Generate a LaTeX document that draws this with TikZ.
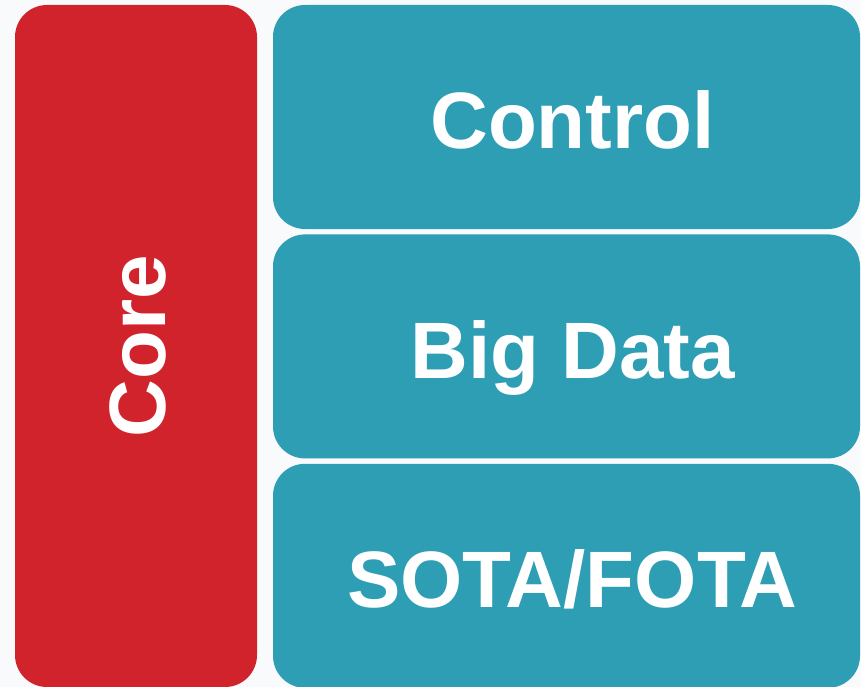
\documentclass[tikz,border=0pt]{standalone}
\usepackage{fontspec}
\setmainfont{Liberation Sans}
\usetikzlibrary{positioning}
\definecolor{corered}{RGB}{208,35,44}
\definecolor{layerteal}{RGB}{46,158,180}
\definecolor{paper}{RGB}{248,250,252}
\tikzset{
  box/.style={rounded corners=32pt, inner sep=0pt, text=white,
    font=\fontsize{80}{96}\selectfont\bfseries},
  corebox/.style={box, fill=corered, rotate=90, text height=58pt, text depth=0pt,
    minimum width=682pt, minimum height=242pt},
  layerbox/.style={box, fill=layerteal, text height=64pt, text depth=0pt,
    minimum width=587pt, minimum height=224pt,
    execute at begin node=\hspace*{12pt}},
}
\begin{document}
\begin{tikzpicture}[x=1pt, y=-1pt, node distance=5pt]
        % 背景
        \fill[paper] (0,0) rectangle (861,687);
        \useasboundingbox (0,0) rectangle (861,687);
        
        % コア
        \node[corebox] (core) at (136,346) {Core};
        
        % レイヤー
        \node[layerbox] (control) at (566.5,117) {Control};
        \node[layerbox, below=of control] (bigdata) {Big Data};
        \node[layerbox, below=of bigdata] (sotafota) {SOTA/FOTA};
        
    \end{tikzpicture}
\end{document}
